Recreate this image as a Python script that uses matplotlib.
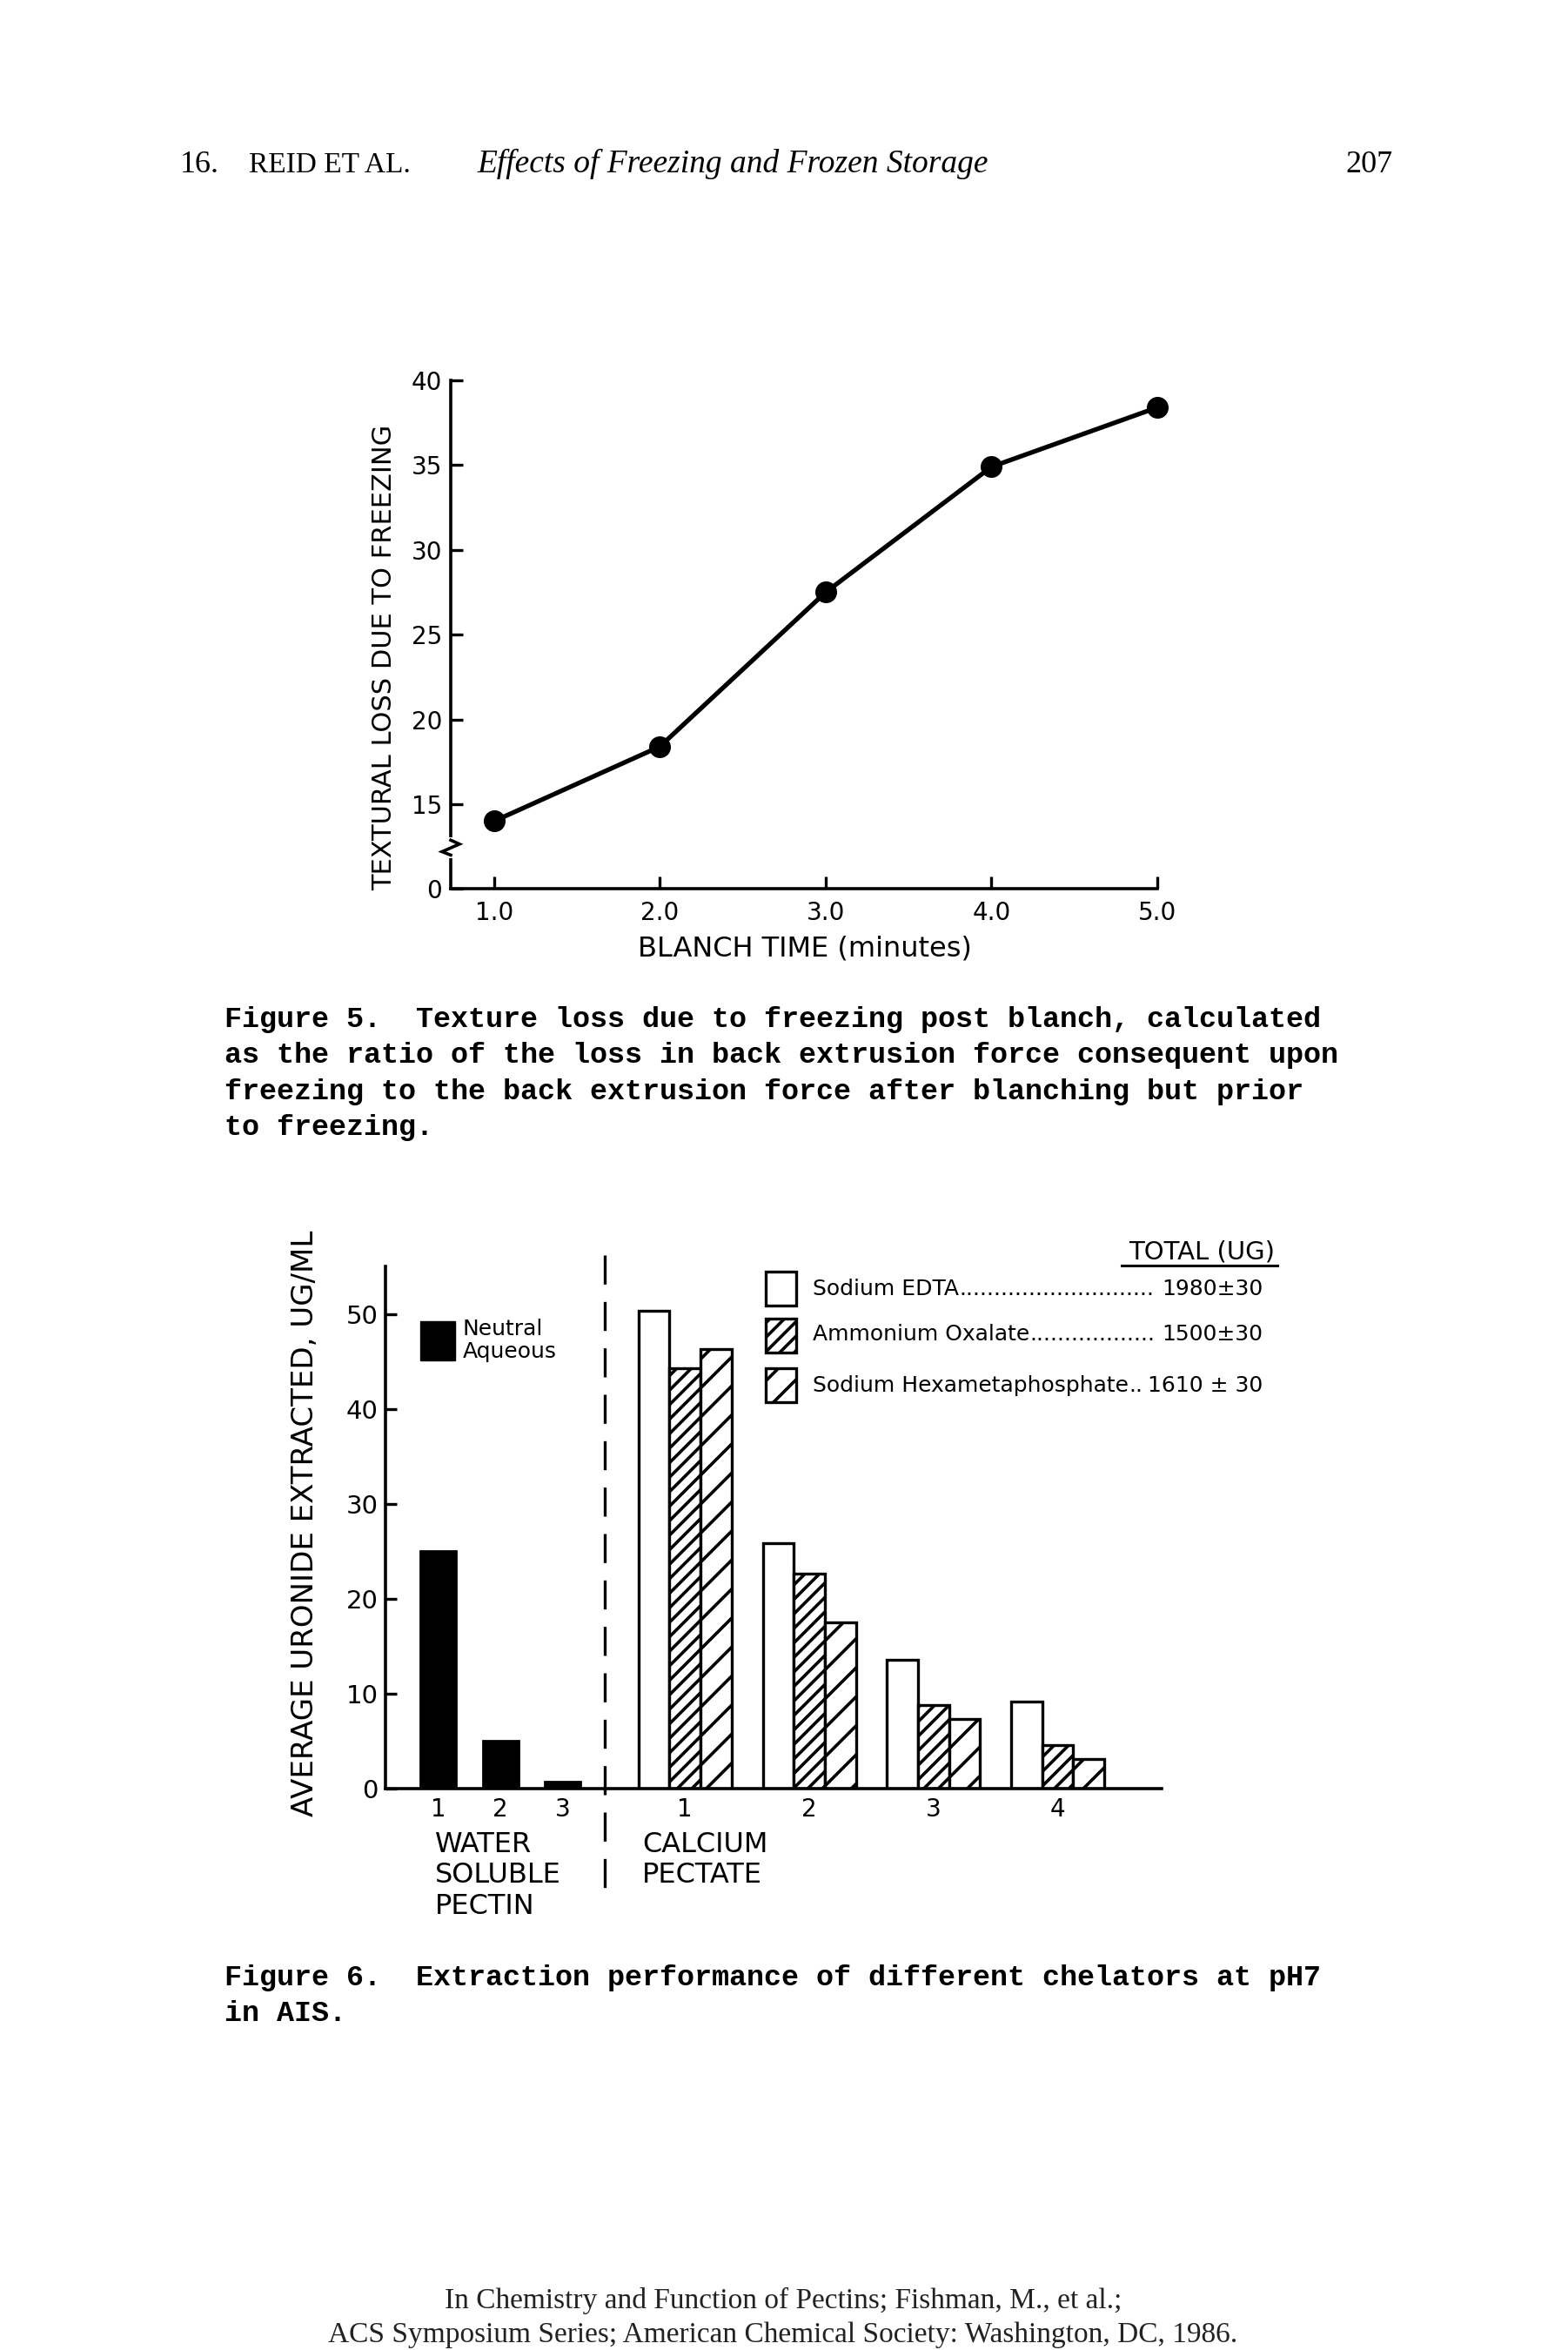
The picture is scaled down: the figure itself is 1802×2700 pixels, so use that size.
import matplotlib
matplotlib.use('Agg')
import matplotlib.pyplot as plt
from matplotlib.patches import Rectangle
from matplotlib.lines import Line2D

# ---------------- data: Figure 5 ----------------
blanch_time = [1.0, 2.0, 3.0, 4.0, 5.0]
texture_loss = [14.0, 18.4, 27.5, 34.9, 38.4]
fig5_yticks = [10, 15, 20, 25, 30, 35, 40]          # 10 = broken-axis origin
fig5_yticklabels = ['0', '15', '20', '25', '30', '35', '40']
fig5_xticks = [1.0, 2.0, 3.0, 4.0, 5.0]
fig5_xticklabels = ['1.0', '2.0', '3.0', '4.0', '5.0']

# ---------------- data: Figure 6 ----------------
water_fractions = ['1', '2', '3']
neutral_aqueous = [25.0, 5.0, 0.7]
calcium_fractions = ['1', '2', '3', '4']
sodium_edta = [50.4, 25.9, 13.6, 9.2]
ammonium_oxalate = [44.3, 22.7, 8.8, 4.6]
sodium_hexameta = [46.3, 17.5, 7.3, 3.1]
chelator_names = ['Sodium EDTA', 'Ammonium Oxalate', 'Sodium Hexametaphosphate']
chelator_totals = ['1980±30', '1500±30', '1610 ± 30']
fig6_yticks = [0, 10, 20, 30, 40, 50]

# ---------------- text ----------------
header_left = ['16.', 'REID ET AL.']
header_title = 'Effects of Freezing and Frozen Storage'
header_page = '207'
caption5 = ['Figure 5.  Texture loss due to freezing post blanch, calculated',
            'as the ratio of the loss in back extrusion force consequent upon',
            'freezing to the back extrusion force after blanching but prior',
            'to freezing.']
caption6 = ['Figure 6.  Extraction performance of different chelators at pH7',
            'in AIS.']
footer = ['In Chemistry and Function of Pectins; Fishman, M., et al.;',
          'ACS Symposium Series; American Chemical Society: Washington, DC, 1986.']

W, H, DPI = 1802, 2700, 100
plt.rcParams['font.family'] = ['DejaVu Sans']
plt.rcParams['hatch.linewidth'] = 2.6

fig = plt.figure(figsize=(W / DPI, H / DPI), dpi=DPI)
fig.patch.set_facecolor('white')


def fx(px):
    return px / W


def fy(py):
    return 1 - py / H


SERIF = 'Liberation Serif'
MONO = 'Liberation Mono'

# ---------------- header ----------------
fig.text(fx(207), fy(198), header_left[0], fontsize=26, family=SERIF, va='baseline')
fig.text(fx(286), fy(198), header_left[1], fontsize=24, family=SERIF, va='baseline')
fig.text(fx(548), fy(198), header_title, fontsize=27, family=SERIF, style='italic', va='baseline')
fig.text(fx(1600), fy(198), header_page, fontsize=26, family=SERIF, ha='right', va='baseline')

# ---------------- Figure 5 ----------------
ax1 = fig.add_axes([fx(518), fy(1021.4), (1330 - 518) / W, (1021.4 - 437) / H])
ax1.plot(blanch_time, texture_loss, color='black', lw=3.8, marker='o', ms=17,
         clip_on=False, zorder=4)
ax1.set_xlim(0.739, 5.0)
ax1.set_ylim(10, 40)
ax1.set_xticks(fig5_xticks, fig5_xticklabels)
ax1.set_yticks(fig5_yticks, fig5_yticklabels)
for s in ['top', 'right']:
    ax1.spines[s].set_visible(False)
for s in ['left', 'bottom']:
    ax1.spines[s].set_linewidth(2.6)
ax1.tick_params(direction='in', length=10, width=2.4, labelsize=20)
ax1.tick_params(axis='y', pad=7)
ax1.tick_params(axis='x', pad=10)
# axis break on the y axis
tr = ax1.get_yaxis_transform()
ax1.plot([0, 0], [12.0, 12.9], color='white', lw=5, transform=tr, clip_on=False, zorder=5)
ax1.plot([0, 0.0123, -0.0123, 0], [12.88, 12.65, 12.2, 12.0], color='black', lw=2.6,
         transform=tr, clip_on=False, zorder=6, solid_joinstyle='miter')

fig.text(fx(442), fy(755), 'TEXTURAL LOSS DUE TO FREEZING', rotation=90,
         ha='center', va='center', fontsize=22)
fig.text(fx(925), fy(1090), 'BLANCH TIME (minutes)', ha='center', va='center', fontsize=23)

for i, line in enumerate(caption5):
    fig.text(fx(258), fy(1171.5 + 41.3 * i), line, family=MONO, weight='bold',
             fontsize=24, va='center', ha='left')

# ---------------- Figure 6 ----------------
ax2 = fig.add_axes([fx(443), fy(2055), (1335 - 443) / W, (2055 - 1455.4) / H])
ax2.set_xlim(0, 25)
ax2.set_ylim(0, 55)
water_x = [1.7 + 2 * i for i in range(len(neutral_aqueous))]
calc_x = [9.65 + 4 * i for i in range(len(sodium_edta))]
ax2.bar(water_x, neutral_aqueous, width=1.15, color='black', edgecolor='black', lw=2)
ax2.bar([c - 1 for c in calc_x], sodium_edta, width=1, facecolor='white',
        edgecolor='black', lw=2.4)
ax2.bar(calc_x, ammonium_oxalate, width=1, facecolor='white', edgecolor='black',
        hatch='//', lw=2.4)
ax2.bar([c + 1 for c in calc_x], sodium_hexameta, width=1, facecolor='white',
        edgecolor='black', hatch='/', lw=2.4)
ax2.set_xticks(water_x + calc_x, water_fractions + calcium_fractions)
ax2.set_yticks(fig6_yticks)
for s in ['top', 'right']:
    ax2.spines[s].set_visible(False)
for s in ['left', 'bottom']:
    ax2.spines[s].set_linewidth(2.6)
ax2.tick_params(axis='y', direction='in', length=9, width=2.4, labelsize=21, pad=6)
ax2.tick_params(axis='x', length=0, labelsize=20, pad=7)
ax2.plot([7.07, 7.07], [56.2, -11.9], color='black', lw=2.4, ls=(0, (10, 6)),
         clip_on=False, zorder=3)

fig.text(fx(351), fy(1750), 'AVERAGE URONIDE EXTRACTED, UG/ML', rotation=90,
         ha='center', va='center', fontsize=24.5)
fig.text(fx(500), fy(2104), 'WATER\nSOLUBLE\nPECTIN', ha='left', va='top',
         fontsize=23, linespacing=1.18)
fig.text(fx(738), fy(2104), 'CALCIUM\nPECTATE', ha='left', va='top',
         fontsize=23, linespacing=1.18)

# legend: neutral aqueous
fig.patches.append(Rectangle((fx(483), fy(1563)), 40 / W, 45 / H, transform=fig.transFigure,
                             facecolor='black', edgecolor='black'))
fig.text(fx(532), fy(1540), 'Neutral\nAqueous', ha='left', va='center', fontsize=18,
         linespacing=1.1)

# legend: chelators
LEG_FS = 18
box_tops = [1460.6, 1514.5, 1572.0]
hatches = [None, '//', '/']
text_y = [1481.5, 1533, 1592]
fig.text(fx(1381), fy(1438), 'TOTAL (UG)', ha='center', va='center', fontsize=21)
fig.add_artist(Line2D([fx(1289), fx(1468)], [fy(1454), fy(1454)], color='black', lw=2.2,
                      transform=fig.transFigure))
renderer = fig.canvas.get_renderer()
probe = fig.text(0, 0, '.' * 20, fontsize=LEG_FS)
dot_w = probe.get_window_extent(renderer).width / 20
probe.remove()
for top, hatch, ty, name, total in zip(box_tops, hatches, text_y, chelator_names, chelator_totals):
    fig.patches.append(Rectangle((fx(879.6), fy(top + 39)), 35 / W, 39 / H,
                                 transform=fig.transFigure, facecolor='white',
                                 edgecolor='black', lw=2.4, hatch=hatch))
    t = fig.text(fx(934), fy(ty), name, ha='left', va='center', fontsize=LEG_FS)
    num = fig.text(fx(1451), fy(ty), total, ha='right', va='center', fontsize=LEG_FS)
    x_end = t.get_window_extent(renderer).x1
    x_num = num.get_window_extent(renderer).x0
    n = max(int((x_num - 2 - x_end) / dot_w), 0)
    fig.text(x_end / W, fy(ty), '.' * n, ha='left', va='center', fontsize=LEG_FS)

for i, line in enumerate(caption6):
    fig.text(fx(258), fy(2272.4 + 41.4 * i), line, family=MONO, weight='bold',
             fontsize=24, va='center', ha='left')

# ---------------- footer ----------------
for i, line in enumerate(footer):
    fig.text(fx(900), fy(2643 + 39.5 * i), line, family=SERIF, fontsize=24,
             ha='center', va='center', color='#222222')

fig.savefig('out.png', dpi=DPI, facecolor='white')
